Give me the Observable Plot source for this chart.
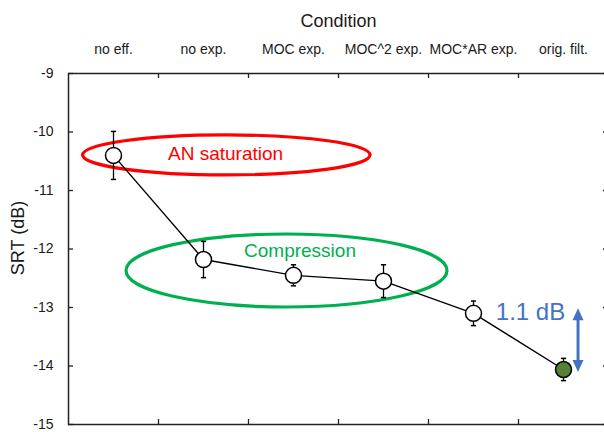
<!DOCTYPE html>
<html><head><meta charset="utf-8">
<script src="https://cdn.jsdelivr.net/npm/d3@7"></script>
<script src="https://cdn.jsdelivr.net/npm/@observablehq/plot@0.6"></script>
<style>
html,body{margin:0;padding:0;background:#fff;overflow:hidden;}
#chart{width:604px;height:432px;overflow:hidden;}
</style></head><body><div id="chart"></div>
<script>
// ---- data ----
const categories = ["no eff.", "no exp.", "MOC exp.", "MOC^2 exp.", "MOC*AR exp.", "orig. filt."];
const srt = [-10.40, -12.18, -12.45, -12.55, -13.10, -14.06];
const srtErr = [0.41, 0.31, 0.18, 0.28, 0.21, 0.19];
const filledCondition = "orig. filt.";
const yTicks = [-9, -10, -11, -12, -13, -14, -15];

// annotations (data units: x = condition index, y = dB)
const noteText = ["AN saturation", "Compression", "1.1 dB"];
const noteX = [1.745, 2.572, 5.133];
const noteY = [-10.38, -12.03, -13.085];
const ellipseCx = [1.759, 2.428];
const ellipseCy = [-10.40, -12.376];
const ellipseRx = [1.597, 1.783];
const ellipseRy = [0.342, 0.624];
const arrowX = 5.667;
const arrowY = [-13.02, -14.11];

// ---- styles ----
const RED = "#FF0000", GREEN = "#00B050", BLUE = "#4472C4";
const noteColors = [RED, GREEN, BLUE];
const noteSizes = [19, 19, 24];
const ellipseColors = [RED, GREEN];

const rows = categories.map((c, i) => ({c, i: i + 0.5, srt: srt[i], err: srtErr[i]}));
const boundaries = categories.map((_, i) => i).slice(1);

const capSymbol = {draw(ctx, size) { const w = Math.sqrt(size / Math.PI); ctx.moveTo(-w, 0); ctx.lineTo(w, 0); }};

function ellipsesMark(index, scales) {
  const g = d3.create("svg:g");
  ellipseCx.forEach((cx, k) => {
    const x0 = scales.x(cx), y0 = scales.y(ellipseCy[k]);
    const rx = Math.abs(scales.x(cx + ellipseRx[k]) - x0);
    const ry = Math.abs(scales.y(ellipseCy[k] + ellipseRy[k]) - y0);
    g.append("ellipse").attr("cx", x0).attr("cy", y0).attr("rx", rx).attr("ry", ry)
      .attr("fill", "none").attr("stroke", ellipseColors[k]).attr("stroke-width", 3.2);
  });
  return g.node();
}

function doubleArrowMark(index, scales) {
  const g = d3.create("svg:g");
  const x = scales.x(arrowX), y1 = scales.y(arrowY[0]), y2 = scales.y(arrowY[1]);
  const hl = 12, hw = 5.5;
  g.append("line").attr("x1", x).attr("x2", x).attr("y1", y1 + hl - 1).attr("y2", y2 - hl + 1)
    .attr("stroke", BLUE).attr("stroke-width", 3);
  g.append("path").attr("d", `M${x},${y1}L${x - hw},${y1 + hl}L${x + hw},${y1 + hl}Z`).attr("fill", BLUE);
  g.append("path").attr("d", `M${x},${y2}L${x - hw},${y2 - hl}L${x + hw},${y2 - hl}Z`).attr("fill", BLUE);
  return g.node();
}

const plotH = 432 - 73 - 8;
const plotW = 608 - 68;

const noteMarks = noteText.map((t, k) => Plot.text([t], {
  x: [noteX[k]], y: [noteY[k]], text: d => d, fill: noteColors[k], fontSize: noteSizes[k], lineAnchor: "middle"
}));

const chart = Plot.plot({
  width: 608, height: 432,
  marginLeft: 68, marginRight: 0, marginTop: 73, marginBottom: 8,
  style: {fontFamily: "'Liberation Sans', Arial, sans-serif", fontSize: "14px", color: "#1a1a1a", background: "#fff", overflow: "visible", maxWidth: "none"},
  x: {type: "linear", domain: [0, categories.length]},
  y: {type: "linear", domain: [-15, -9]},
  marks: [
    Plot.axisX(rows.map(d => d.i), {anchor: "top", tickSize: 0, tickPadding: 20, tickFormat: d => categories[Math.floor(d)], label: null, fontSize: 14}),
    Plot.axisY(yTicks, {anchor: "left", tickSize: 0, tickPadding: 15, tickFormat: d => `${d}`, label: null, fontSize: 14}),
    Plot.tickY(yTicks, {y: d => d, insetRight: plotW - 5, stroke: "#222", strokeWidth: 1.3}),
    Plot.tickY(yTicks, {y: d => d, insetLeft: plotW - 5, stroke: "#222", strokeWidth: 1.3}),
    Plot.tickX(boundaries, {x: d => d, insetBottom: plotH - 5, stroke: "#222", strokeWidth: 1.3}),
    Plot.tickX(boundaries, {x: d => d, insetTop: plotH - 5, stroke: "#222", strokeWidth: 1.3}),
    Plot.frame({stroke: "#222", strokeWidth: 1.5}),
    Plot.text(["Condition"], {frameAnchor: "top", dy: -52, fontSize: 18, lineAnchor: "middle", textAnchor: "middle", fill: "#1a1a1a"}),
    Plot.text(["SRT (dB)"], {frameAnchor: "left", rotate: -90, dx: -50, dy: -11, fontSize: 18, lineAnchor: "middle", textAnchor: "middle", fill: "#1a1a1a"}),
    ellipsesMark,
    Plot.ruleX(rows, {x: "i", y1: d => d.srt - d.err, y2: d => d.srt + d.err, stroke: "#000", strokeWidth: 1.3}),
    Plot.dot(rows, {x: "i", y: d => d.srt + d.err, symbol: capSymbol, r: 2.6, stroke: "#000", strokeWidth: 1.5, fill: "none"}),
    Plot.dot(rows, {x: "i", y: d => d.srt - d.err, symbol: capSymbol, r: 2.6, stroke: "#000", strokeWidth: 1.5, fill: "none"}),
    Plot.line(rows, {x: "i", y: "srt", stroke: "#000", strokeWidth: 1.4}),
    Plot.dot(rows.filter(d => d.c !== filledCondition), {x: "i", y: "srt", r: 8, fill: "#fff", stroke: "#000", strokeWidth: 1.5}),
    Plot.dot(rows.filter(d => d.c === filledCondition), {x: "i", y: "srt", r: 8, fill: "#538135", stroke: "#000", strokeWidth: 1.5}),
    ...noteMarks,
    doubleArrowMark
  ]
});
document.getElementById("chart").appendChild(chart);
</script>
</body></html>
